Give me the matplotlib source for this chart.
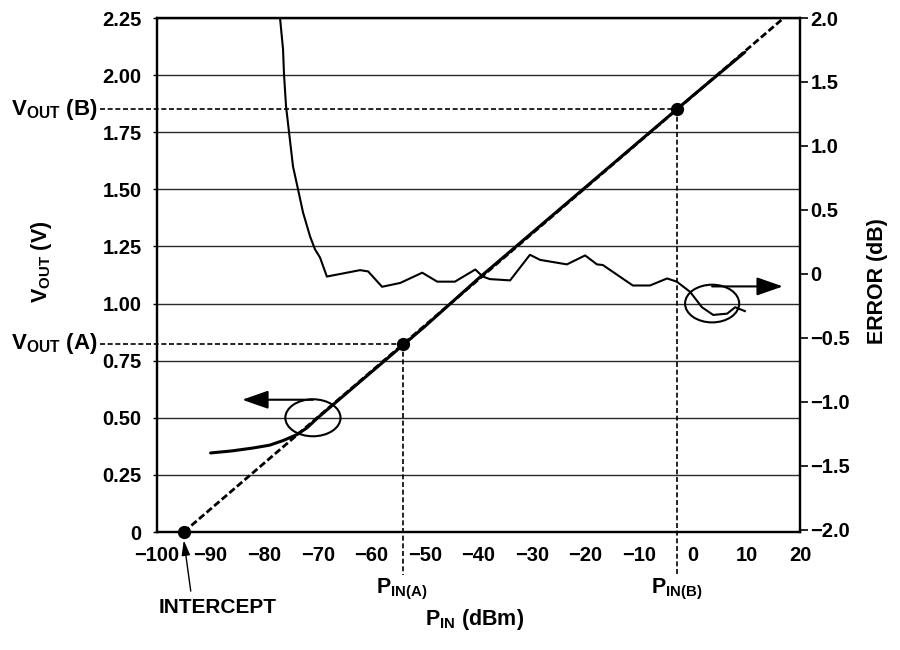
import matplotlib
matplotlib.use('Agg')
import matplotlib.pyplot as plt
from matplotlib.patches import Ellipse, ArrowStyle

plt.rcParams['font.family'] = ['Liberation Sans', 'DejaVu Sans']
plt.rcParams['font.weight'] = 'bold'
plt.rcParams['mathtext.fontset'] = 'custom'
plt.rcParams['mathtext.rm'] = 'Liberation Sans:bold'
plt.rcParams['mathtext.bf'] = 'Liberation Sans:bold'
plt.rcParams['mathtext.it'] = 'Liberation Sans:bold'

# ---------------- data ----------------
pin_ticks = [-100, -90, -80, -70, -60, -50, -40, -30, -20, -10, 0, 10, 20]
pin_labels = ['\u2212100', '\u221290', '\u221280', '\u221270', '\u221260', '\u221250',
              '\u221240', '\u221230', '\u221220', '\u221210', '0', '10', '20']
vout_ticks = [0, 0.25, 0.5, 0.75, 1.0, 1.25, 1.5, 1.75, 2.0, 2.25]
vout_labels = ['0', '0.25', '0.50', '0.75', '1.00', '1.25', '1.50', '1.75', '2.00', '2.25']
err_ticks = [-2.0, -1.5, -1.0, -0.5, 0, 0.5, 1.0, 1.5, 2.0]
err_labels = ['\u22122.0', '\u22121.5', '\u22121.0', '\u22120.5', '0', '0.5', '1.0', '1.5', '2.0']

# measured VOUT (V) vs PIN (dBm)
vout_x = [-90, -86, -82, -79, -76.5, -74, -72, -70, -60, -50, -40, -30, -20, -10, 0, 9.7]
vout_v = [0.346, 0.355, 0.368, 0.38, 0.40, 0.425, 0.456, 0.50, 0.70, 0.90, 1.11,
          1.31, 1.51, 1.71, 1.91, 2.10]

# ideal transfer line (dashed), from intercept
ideal_x = [-95.0, 17.6]
ideal_v = [0.0, 2.263]

# log-conformance error (dB)
err_x = [-77.04, -76.48, -76.30, -75.92, -75.36, -74.62, -73.68, -72.75, -71.44, -70.51,
         -69.58, -68.3, -65.8, -62.1, -60.6,
         -58.0, -54.6, -50.5, -47.7, -44.4, -40.6, -39.2, -37.9, -34.1, -30.4, -28.5,
         -23.5, -20.1, -17.9, -16.8, -11.2, -8.0, -4.8, -3.0, -0.5, 1.7, 3.8, 6.4,
         7.9, 9.7]
err_db = [2.0, 1.757, 1.562, 1.311, 1.108, 0.841, 0.661, 0.481, 0.294, 0.192,
          0.129, -0.02, 0.0, 0.03, 0.02,
          -0.10, -0.07, 0.01, -0.06, -0.06, 0.035, -0.02, -0.04, -0.05, 0.15, 0.11,
          0.075, 0.145, 0.075, 0.07, -0.09, -0.09, -0.035, -0.06, -0.14, -0.26, -0.32,
          -0.31, -0.26, -0.29]

intercept = (-95.0, 0.0)
point_a = (-54.0, 0.824)
point_b = (-3.0, 1.85)

XLIM = (-100, 20)
YLIM = (0, 2.25)
Y2LIM = (-2.016, 2.0)

TICK_FS = 14.5
LABEL_FS = 15.5

# ---------------- figure ----------------
fig = plt.figure(figsize=(9, 6.5), dpi=100)
ax = fig.add_axes([157 / 900, 118 / 650, 643 / 900, 514 / 650])
ax.set_xlim(*XLIM)
ax.set_ylim(*YLIM)

ax.set_xticks(pin_ticks)
ax.set_xticklabels(pin_labels)
ax.set_yticks(vout_ticks)
ax.set_yticklabels(vout_labels)
ax.tick_params(axis='y', direction='out', length=3, width=1.0, pad=8, labelsize=TICK_FS)
ax.tick_params(axis='x', length=0, pad=10, labelsize=TICK_FS)
ax.grid(axis='y', color='#2a2a2a', lw=1.0)
ax.set_axisbelow(True)
for s in ax.spines.values():
    s.set_linewidth(1.6)

# ideal dashed line
ax.plot(ideal_x, ideal_v, color='k', lw=2.0, dashes=(2.5, 1.1), zorder=3)
# measured VOUT
ax.plot(vout_x, vout_v, color='k', lw=2.2, zorder=4, solid_capstyle='round')

# A / B reference dashed lines
def frac_x(v):
    return (v - XLIM[0]) / (XLIM[1] - XLIM[0])

def frac_y(v):
    return (v - YLIM[0]) / (YLIM[1] - YLIM[0])

ytr = ax.get_yaxis_transform()
xtr = ax.get_xaxis_transform()
left_start = -0.0886
below_end = -0.0837
for (px, pv) in (point_a, point_b):
    ax.plot([left_start, frac_x(px)], [pv, pv], transform=ytr, color='k', lw=1.2,
            dashes=(3, 1.6), clip_on=False, zorder=3)
    ax.plot([px, px], [frac_y(pv), below_end], transform=xtr, color='k', lw=1.2,
            dashes=(3, 1.6), clip_on=False, zorder=3)

# dots
for (px, pv) in (intercept, point_a, point_b):
    ax.plot([px], [pv], 'o', color='k', ms=8.5, clip_on=False, zorder=6)

# ellipses and arrows
ax.add_patch(Ellipse((-70.9, 0.50), 10.3, 0.162, fill=False, ec='k', lw=1.5,
                     clip_on=False, zorder=5))
ax.add_patch(Ellipse((3.6, 1.0), 10.1, 0.165, fill=False, ec='k', lw=1.5,
                     clip_on=False, zorder=5))
astyle = ArrowStyle('-|>', head_length=0.8, head_width=0.28)
ax.annotate('', xy=(-84.1, 0.579), xytext=(-70.9, 0.579),
            arrowprops=dict(arrowstyle=astyle, mutation_scale=20, lw=1.5, color='k',
                            shrinkA=0, shrinkB=0), zorder=5)
ax.annotate('', xy=(16.8, 1.075), xytext=(3.6, 1.075),
            arrowprops=dict(arrowstyle=astyle, mutation_scale=20, lw=1.5, color='k',
                            shrinkA=0, shrinkB=0), zorder=5)

# intercept arrow + label
ax.annotate('', xy=(-95.0, -0.016), xytext=(-93.7, -0.115), xycoords=xtr, textcoords=xtr,
            arrowprops=dict(arrowstyle=ArrowStyle('-|>', head_length=0.6, head_width=0.17),
                            mutation_scale=15, lw=1.0, color='k', shrinkA=0, shrinkB=0),
            annotation_clip=False)
ax.text(-88.6, -0.146, 'INTERCEPT', transform=xtr, ha='center', va='center',
        fontsize=TICK_FS + 0.5, fontweight='bold')

# P_IN labels
ax.text(point_a[0] - 0.3, -0.119, r'$\mathbf{P_{IN(A)}}$', transform=xtr, ha='center',
        va='baseline', fontsize=LABEL_FS)
ax.text(point_b[0], -0.119, r'$\mathbf{P_{IN(B)}}$', transform=xtr, ha='center',
        va='baseline', fontsize=LABEL_FS)
ax.text(-40.8, -0.181, r'$\mathbf{P_{IN}}$ (dBm)', transform=xtr, ha='center',
        va='baseline', fontsize=LABEL_FS, fontweight='bold')

# VOUT (A)/(B) labels
ax.text(-0.0933, point_b[1], r'$\mathbf{V_{OUT}}$ (B)', transform=ytr, ha='right',
        va='center', fontsize=LABEL_FS + 0.5, fontweight='bold')
ax.text(-0.0933, point_a[1], r'$\mathbf{V_{OUT}}$ (A)', transform=ytr, ha='right',
        va='center', fontsize=LABEL_FS + 0.5, fontweight='bold')

# axis titles
fig.text(41 / 900, 1 - 262 / 650, r'$\mathbf{V_{OUT}}$ (V)', rotation=90, ha='center',
         va='center', fontsize=LABEL_FS, fontweight='bold')
fig.text(878 / 900, 1 - 281 / 650, 'ERROR (dB)', rotation=90, ha='center', va='center',
         fontsize=LABEL_FS, fontweight='bold')

# right axis: error
ax2 = ax.twinx()
ax2.set_ylim(*Y2LIM)
ax2.set_yticks(err_ticks)
ax2.set_yticklabels(err_labels)
ax2.tick_params(axis='y', direction='out', length=6, width=1.2, pad=1.5, labelsize=TICK_FS)
for s in ax2.spines.values():
    s.set_linewidth(1.6)
ax2.plot(err_x, err_db, color='k', lw=1.5)

fig.savefig('out.png', dpi=100)
